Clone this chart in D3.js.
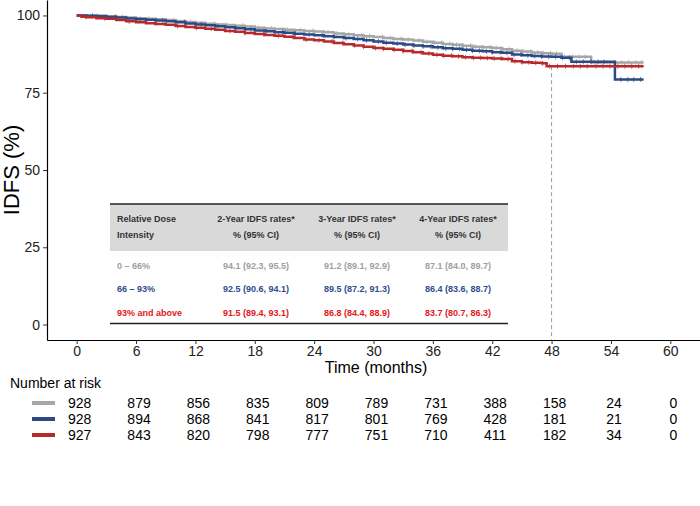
<!DOCTYPE html>
<html><head><meta charset="utf-8">
<script src="https://cdn.jsdelivr.net/npm/d3@7"></script>
<style>body{margin:0;background:#fff}svg{display:block;font-family:"Liberation Sans",Arial,sans-serif}</style>
</head><body><svg id="c" width="700" height="506"></svg>
<script>
// ---------- data ----------
const groups = ["0 – 66%", "66 – 93%", "93% and above"];
const lineColors = ["#a6a6a6", "#2a4a86", "#b8292c"];
const textColors = ["#a0a0a0", "#2f4d8c", "#e3161d"];

const grayTime = [0,1,2,3,4,5,6,7,8,9,10,11,12,13,14,15,16,17,18,19,20,21,22,23,24,25,26,27,28,29,30,31,32,33,34,35,36,37,38,39,40,41,42,43,44,45,46,47,48,49,52,57.3];
const graySurv = [100,99.9,99.8,99.6,99.5,99.3,99.1,98.9,98.8,98.5,98.2,97.9,97.6,97.3,97.1,96.9,96.7,96.4,96.0,95.8,95.6,95.4,95.2,95.0,94.8,94.6,94.2,93.9,93.6,93.3,93.0,92.7,92.4,92.2,91.9,91.5,91.2,90.8,90.5,90.2,89.9,89.7,89.5,89.1,88.6,88.3,88.0,87.8,87.6,86.6,84.8,84.8];

const blueTime = [0,1,2,3,4,5,6,7,8,9,10,11,12,13,14,15,16,17,18,19,20,21,22,23,24,25,26,27,28,29,30,31,32,33,34,35,36,37,38,39,40,41,42,43,44,45,46,47,48,49,50,54.4,57.3];
const blueSurv = [100,99.9,99.8,99.6,99.3,99.0,98.8,98.6,98.4,98.1,97.8,97.4,97.1,96.8,96.5,96.2,95.9,95.5,95.1,94.9,94.6,94.4,94.1,93.8,93.6,93.3,93.0,92.7,92.4,92.0,91.6,91.2,90.9,90.6,90.3,90.0,89.7,89.4,89.2,88.9,88.6,88.4,88.1,87.9,87.4,87.1,86.9,86.7,86.6,86.3,85.0,79.3,79.3];

const redTime = [0,0.5,1,2,3,4,5,6,7,8,9,10,11,12,13,14,15,16,17,18,19,20,21,22,23,24,25,26,27,28,29,30,31,32,33,34,35,36,37,38,39,40,41,42,43,44,45,46,47,47.5,57.3];
const redSurv = [100,99.6,99.4,99.1,98.9,98.5,98.1,97.8,97.5,97.2,97.0,96.6,96.3,96.0,95.7,95.4,95.0,94.7,94.3,94.0,93.7,93.4,93.1,92.7,92.2,92.0,91.6,91.1,90.7,90.3,89.9,89.5,89.2,88.9,88.5,88.1,87.7,87.3,87.0,86.8,86.5,86.3,86.2,86.1,85.9,85.2,84.9,84.7,84.5,83.6,83.6];

const grayCensor = [2.1,4.6,7.3,9.8,11.5,13.9,15.2,16.8,18.4,19.7,21.3,22.6,23.9,25.4,26.3,27.5,28.8,29.6,30.9,31.7,32.8,33.5,34.6,35.4,36.2,36.9,37.7,38.4,39.0,39.8,40.3,41.1,41.8,42.4,43.0,43.7,44.5,45.1,45.9,46.6,47.2,47.9,48.5,49.3,50.1,50.8,51.4,52.3,53.0,53.6,54.4,55.1,55.8,56.5,57.1];
const blueCensor = [1.6,3.9,6.4,8.7,10.9,12.6,14.3,16.1,17.6,19.2,20.8,22.1,23.5,24.8,26.0,27.2,28.4,29.3,30.5,31.3,32.4,33.2,34.1,35.0,35.8,36.5,37.3,38.0,38.7,39.4,40.0,40.7,41.4,42.0,42.8,43.5,44.2,44.9,45.6,46.3,47.0,47.7,48.4,49.1,49.8,50.5,51.2,52.0,52.7,53.3,55.0,55.7,56.3,57.0];
const redCensor = [0.9,2.8,5.3,7.9,10.2,12.1,13.6,15.5,17.0,18.9,20.4,21.8,23.2,24.5,25.8,26.9,28.1,29.0,30.2,31.0,32.1,33.0,33.9,34.8,35.6,36.4,37.1,37.9,38.6,39.3,40.1,40.8,41.5,42.2,42.9,43.6,44.3,45.0,45.7,46.4,47.1,47.8,48.6,49.4,50.2,50.9,51.6,52.5,53.2,53.9,54.7,55.4,56.1,56.8];

const xTicks = [0,6,12,18,24,30,36,42,48,54,60];
const yTicks = [0,25,50,75,100];
const riskTimes = [0,6,12,18,24,30,36,42,48,54,60];
const riskGray = [928,879,856,835,809,789,731,388,158,24,0];
const riskBlue = [928,894,868,841,817,801,769,428,181,21,0];
const riskRed  = [927,843,820,798,777,751,710,411,182,34,0];

const tableHeader1 = ["Relative Dose","2-Year IDFS rates*","3-Year IDFS rates*","4-Year IDFS rates*"];
const tableHeader2 = ["Intensity","% (95% CI)","% (95% CI)","% (95% CI)"];
const rates2y = ["94.1 (92.3, 95.5)","92.5 (90.6, 94.1)","91.5 (89.4, 93.1)"];
const rates3y = ["91.2 (89.1, 92.9)","89.5 (87.2, 91.3)","86.8 (84.4, 88.9)"];
const rates4y = ["87.1 (84.0, 89.7)","86.4 (83.6, 88.7)","83.7 (80.7, 86.3)"];
const landmark = 48;

// ---------- drawing ----------
const svg = d3.select("#c");
svg.append("rect").attr("width",700).attr("height",506).attr("fill","#fff");
const x = d3.scaleLinear().domain([-3,63]).range([47,700]);
const y = d3.scaleLinear().domain([-5,105]).range([340,0]);

const series = [
  {t:grayTime, s:graySurv, c:grayCensor},
  {t:blueTime, s:blueSurv, c:blueCensor},
  {t:redTime, s:redSurv, c:redCensor}
];

// landmark dashed line
svg.append("line").attr("x1",x(landmark)).attr("x2",x(landmark))
  .attr("y1",y(83.6)).attr("y2",y(-5))
  .attr("stroke","#9a9a9a").attr("stroke-width",1).attr("stroke-dasharray","4,3");

// curves
const line = d3.line().x(d=>x(d[0])).y(d=>y(d[1])).curve(d3.curveStepAfter);
series.forEach((sr,i) => {
  const pts = sr.t.map((t,k)=>[t, sr.s[k]]);
  svg.append("path").attr("d", line(pts)).attr("fill","none")
    .attr("stroke", lineColors[i]).attr("stroke-width",2.5);
  const g = svg.append("g");
  sr.c.forEach(ct => {
    const k = d3.bisectRight(sr.t, ct) - 1;
    const v = sr.s[Math.max(0,k)];
    g.append("line").attr("x1",x(ct)).attr("x2",x(ct))
      .attr("y1",y(v)-2.5).attr("y2",y(v)+2.5)
      .attr("stroke",lineColors[i]).attr("stroke-width",1).attr("opacity",0.7);
  });
});

// axes
const yAxis = svg.append("g").attr("transform","translate(47,0)")
  .call(d3.axisLeft(y).tickValues(yTicks).tickSize(4).tickSizeOuter(0).tickPadding(3));
const xAxis = svg.append("g").attr("transform","translate(0,340)")
  .call(d3.axisBottom(x).tickValues(xTicks).tickSize(4).tickSizeOuter(0).tickPadding(2));
[yAxis,xAxis].forEach(a => {
  a.select(".domain").attr("stroke","#000").attr("stroke-width",1.2);
  a.selectAll(".tick line").attr("stroke","#333").attr("stroke-width",1);
  a.selectAll(".tick text").attr("fill","#222").attr("font-size",14)
    .attr("font-family","Liberation Sans, Arial, sans-serif");
});

svg.append("text").attr("transform","translate(11,170) rotate(-90)")
  .attr("text-anchor","middle").attr("dominant-baseline","central")
  .attr("font-size",22).attr("fill","#000").text("IDFS (%)");
svg.append("text").attr("x",376).attr("y",373).attr("text-anchor","middle")
  .attr("font-size",16).attr("fill","#000").text("Time (months)");

// table
const tbl = svg.append("g");
const tx0 = 110, tx1 = 508;
const colX = [117, 256, 357, 458];
tbl.append("rect").attr("x",tx0).attr("y",204).attr("width",tx1-tx0).attr("height",47).attr("fill","#d9d9d9");
tbl.append("line").attr("x1",tx0).attr("x2",tx1).attr("y1",204).attr("y2",204).attr("stroke","#222").attr("stroke-width",1.5);
tbl.append("line").attr("x1",tx0).attr("x2",tx1).attr("y1",323.5).attr("y2",323.5).attr("stroke","#222").attr("stroke-width",1.5);
[tableHeader1, tableHeader2].forEach((row, r) => {
  row.forEach((txt, c) => {
    tbl.append("text").attr("x",colX[c]).attr("y", r===0 ? 218.5 : 235)
      .attr("dy","0.35em").attr("text-anchor", c===0 ? "start" : "middle")
      .attr("font-size",9).attr("font-weight","bold").attr("fill","#333").text(txt);
  });
});
const rowY = [265.5, 289, 312.5];
groups.forEach((gname, r) => {
  [gname, rates2y[r], rates3y[r], rates4y[r]].forEach((txt, c) => {
    tbl.append("text").attr("x",colX[c]).attr("y",rowY[r]).attr("dy","0.35em")
      .attr("text-anchor", c===0 ? "start" : "middle")
      .attr("font-size",9).attr("font-weight","bold").attr("fill",textColors[r]).text(txt);
  });
});

// risk table
svg.append("text").attr("x",10).attr("y",388).attr("font-size",14).attr("fill","#000").text("Number at risk");
const riskRows = [riskGray, riskBlue, riskRed];
const riskY = [403, 419, 435];
riskRows.forEach((vals, r) => {
  svg.append("line").attr("x1",32).attr("x2",55).attr("y1",riskY[r]).attr("y2",riskY[r])
    .attr("stroke",lineColors[r]).attr("stroke-width",4);
  vals.forEach((v,k) => {
    svg.append("text").attr("x",x(riskTimes[k])+3).attr("y",riskY[r]).attr("dy","0.35em")
      .attr("text-anchor","middle").attr("font-size",14).attr("fill","#000").text(v);
  });
});
</script></body></html>
